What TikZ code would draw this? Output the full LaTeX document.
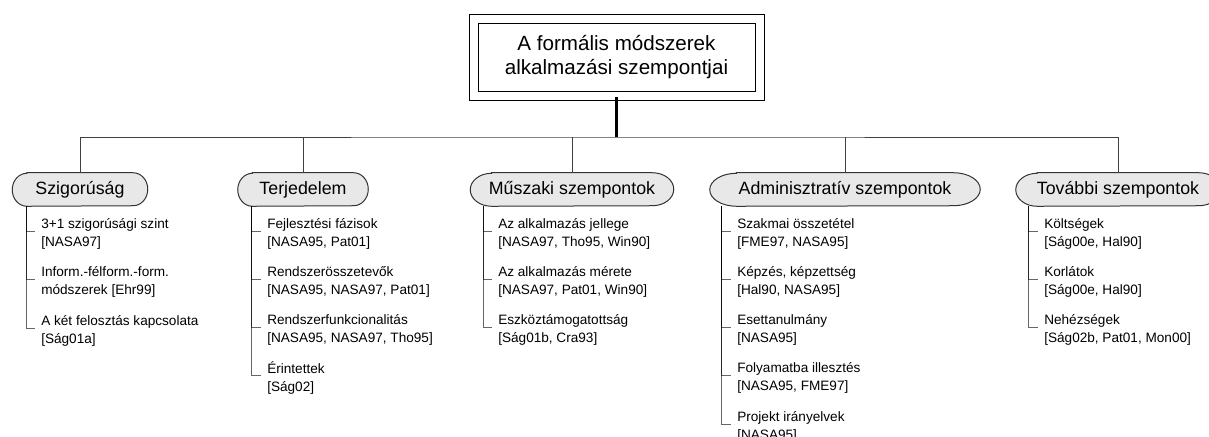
\documentclass[tikz,border=0pt]{standalone}
\usepackage{fontspec}
\setmainfont{Liberation Sans}
\usetikzlibrary{backgrounds}

% one unit = one pixel of the 1209 x 436 canvas, y grows downwards
\tikzset{
  x=0.75pt, y=-0.75pt,
  titlebox/.style={draw=black, line width=0.75pt, double=white, double distance=6pt,
    minimum width=214.5pt, minimum height=57.4pt, align=center, inner sep=0pt,
    font=\fontsize{15.45}{17.8}\selectfont},
  capsulenode/.style={rectangle, minimum height=24.75pt, inner sep=0pt,
    font=\fontsize{13.35}{15}\selectfont},
  capsule/.style={draw=black!80, fill=black!9, line width=0.75pt},
  item/.style={anchor=west, align=left, inner xsep=4.5pt, inner ysep=1pt,
    font=\fontsize{10.2}{13.9}\selectfont},
  bar/.style={draw=black!75, line width=0.75pt},
  stem/.style={draw=black, line width=1.9pt},
  trunk/.style={draw=black, line width=0.75pt, draw opacity=0.6},
}

% elliptical-ended outline around a capsule node
\newcommand\capsuleoutline[2]{%
  \path[capsule] ([xshift=#2]#1.north west) -- ([xshift=-#2]#1.north east)
    arc[start angle=90, end angle=-90, x radius=#2, y radius=12.375pt]
    -- ([xshift=#2]#1.south west)
    arc[start angle=270, end angle=90, x radius=#2, y radius=12.375pt] -- cycle;}

% branch from a category trunk to one of its entries
\newcommand\branch[3]{%
  \draw[trunk] ([xshift=#2]#1.south west) |- ([yshift=2.25pt]#3.west);}

\begin{document}
\begin{tikzpicture}
\useasboundingbox (0,0) rectangle (1209,436);

% root
\node[titlebox] (root) at (616.5,57.75) {\raisebox{-1.5pt}{\begin{tabular}{@{}c@{}}A formális módszerek\\[-0.5pt]alkalmazási szempontjai\end{tabular}}};
\coordinate (hub) at (616.5,137);

% categories
\node[capsulenode, minimum width=101.25pt] (szig)  at (80,189.5)  {Szigorúság};
\node[capsulenode, minimum width=97.5pt]   (terj)  at (303,189.5) {Terjedelem};
\node[capsulenode, minimum width=152.25pt] (musz)  at (572,189.5) {Műszaki szempontok};
\node[capsulenode, minimum width=202.5pt]  (admin) at (845,189.5) {Adminisztratív szempontok};
\node[capsulenode, minimum width=153pt]    (tov)   at (1118,189.5) {További szempontok};

\begin{pgfonlayer}{background}
  \capsuleoutline{szig}{11pt}
  \capsuleoutline{terj}{11pt}
  \capsuleoutline{musz}{16pt}
  \capsuleoutline{admin}{20pt}
  \capsuleoutline{tov}{16pt}
\end{pgfonlayer}

% tree lines from the root
\draw[stem] (root.south) -- (hub);
\draw[bar] (szig.north) |- (hub) -| (tov.north);
\draw[bar] (terj.north) -- (terj.north |- hub);
\draw[bar] (musz.north) -- (musz.north |- hub);
\draw[bar] (admin.north) -- (admin.north |- hub);

% Szigorúság
\node[item] (s1) at (35,234) {3+1 szigorúsági szint\\{[NASA97]}};
\node[item] (s2) at (35,282) {Inform.-félform.-form.\\módszerek [Ehr99]};
\node[item] (s3) at (35,331) {A két felosztás kapcsolata\\{[Ság01a]}};
\foreach \n in {s1,s2,s3} {\branch{szig}{10.5pt}{\n}}

% Terjedelem
\node[item] (t1) at (261,234) {Fejlesztési fázisok\\{[NASA95, Pat01]}};
\node[item] (t2) at (261,282) {Rendszerösszetevők\\{[NASA95, NASA97, Pat01]}};
\node[item] (t3) at (261,330) {Rendszerfunkcionalitás\\{[NASA95, NASA97, Tho95]}};
\node[item] (t4) at (261,378) {Érintettek\\{[Ság02]}};
\foreach \n in {t1,t2,t3,t4} {\branch{terj}{10.5pt}{\n}}

% Műszaki szempontok
\node[item] (m1) at (492,234) {Az alkalmazás jellege\\{[NASA97, Tho95, Win90]}};
\node[item] (m2) at (492,282) {Az alkalmazás mérete\\{[NASA97, Pat01, Win90]}};
\node[item] (m3) at (492,330) {Eszköztámogatottság\\{[Ság01b, Cra93]}};
\foreach \n in {m1,m2,m3} {\branch{musz}{9.75pt}{\n}}

% Adminisztratív szempontok
\node[item] (a1) at (731,234) {Szakmai összetétel\\{[FME97, NASA95]}};
\node[item] (a2) at (731,282) {Képzés, képzettség\\{[Hal90, NASA95]}};
\node[item] (a3) at (731,330) {Esettanulmány\\{[NASA95]}};
\node[item] (a4) at (731,378) {Folyamatba illesztés\\{[NASA95, FME97]}};
\node[item] (a5) at (731,427) {Projekt irányelvek\\{[NASA95]}};
\foreach \n in {a1,a2,a3,a4,a5} {\branch{admin}{9pt}{\n}}

% További szempontok
\node[item] (v1) at (1038,234) {Költségek\\{[Ság00e, Hal90]}};
\node[item] (v2) at (1038,282) {Korlátok\\{[Ság00e, Hal90]}};
\node[item] (v3) at (1038,330) {Nehézségek\\{[Ság02b, Pat01, Mon00]}};
\foreach \n in {v1,v2,v3} {\branch{tov}{9.75pt}{\n}}
\end{tikzpicture}
\end{document}
